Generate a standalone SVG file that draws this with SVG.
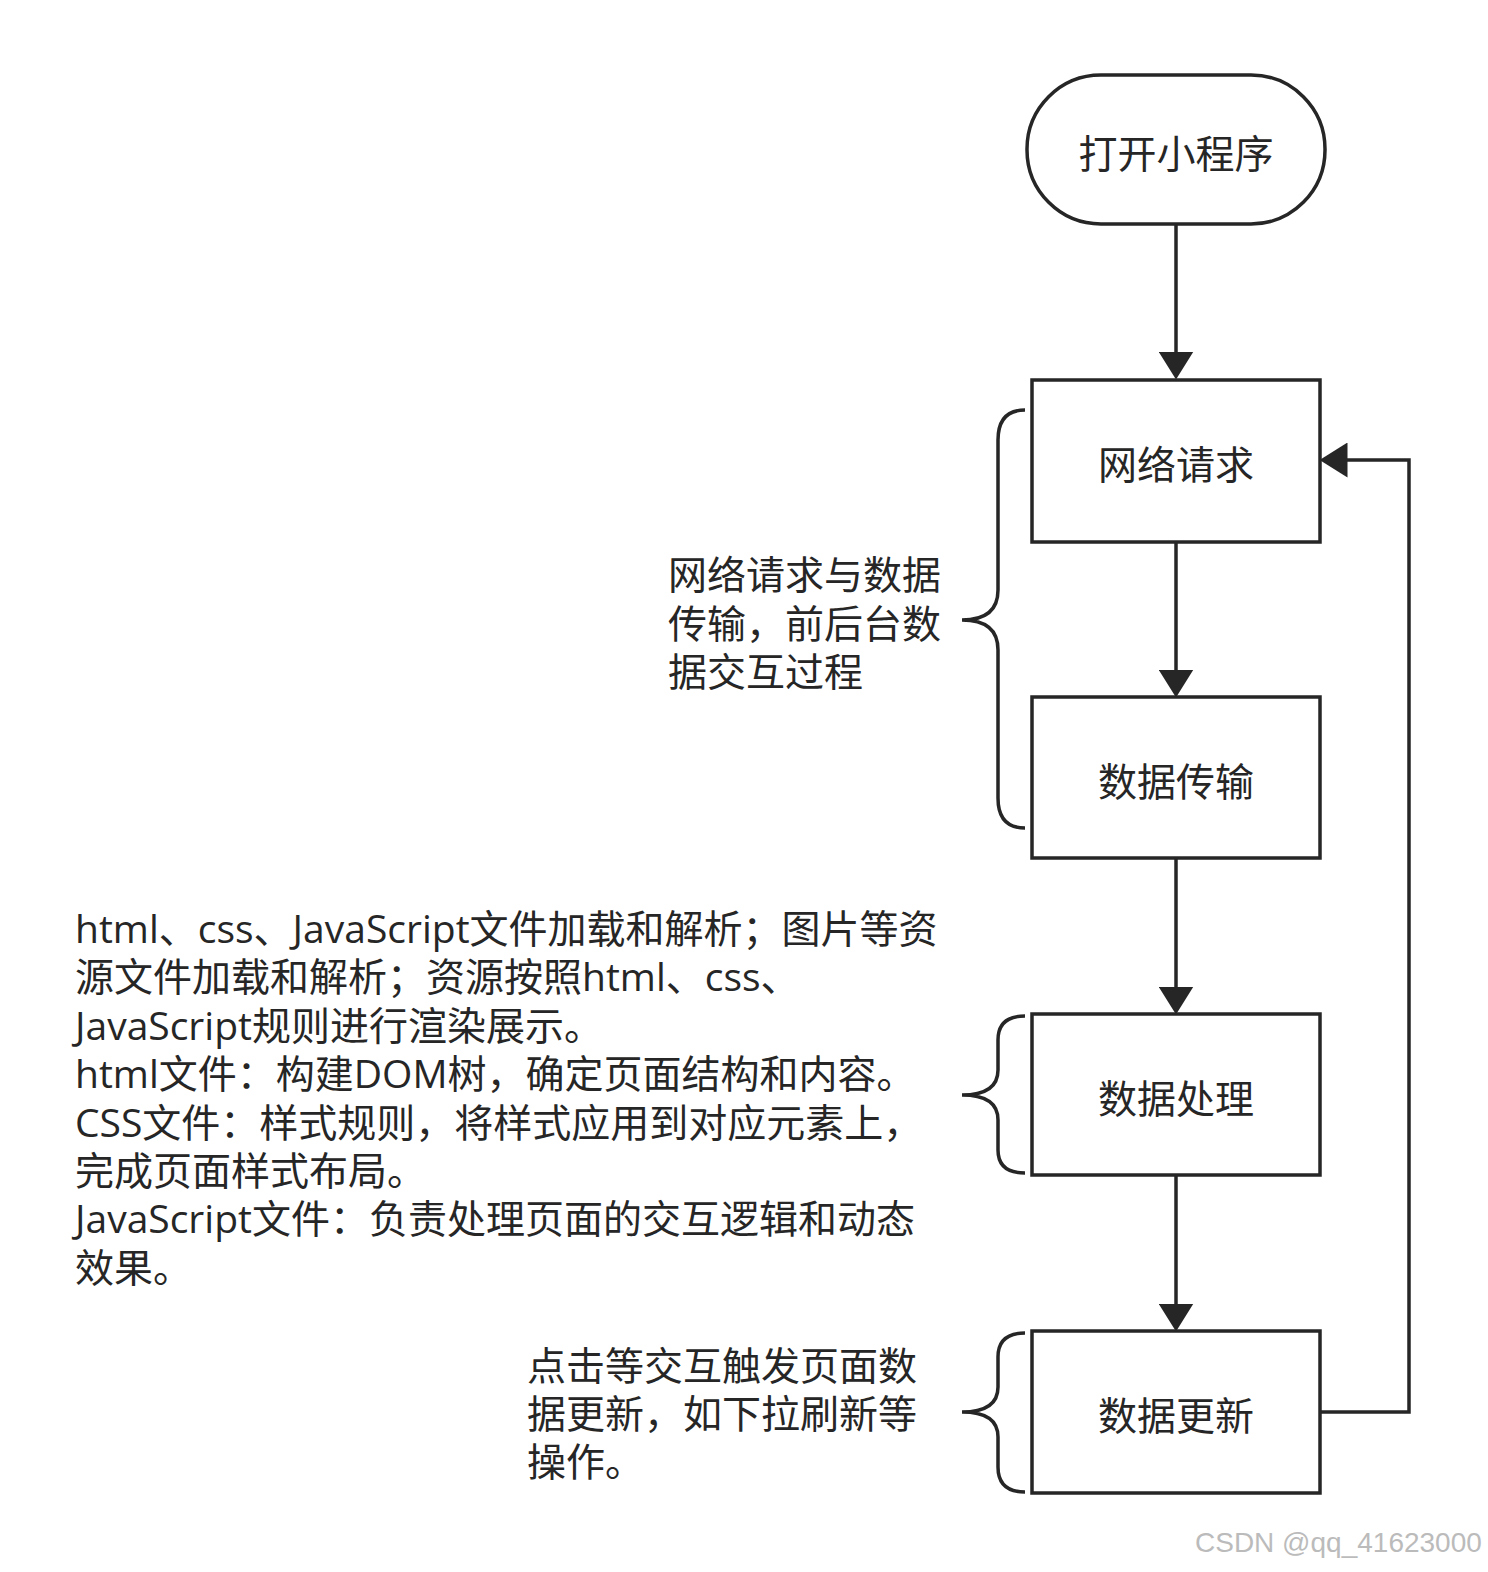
<svg xmlns="http://www.w3.org/2000/svg" width="1488" height="1572" viewBox="0 0 1488 1572">
<style>
.n{fill:#fff;stroke:#262626;stroke-width:3.5}
.c{fill:none;stroke:#262626;stroke-width:3.5}
.t{font-family:"Open Sans","Noto Sans CJK SC",sans-serif;font-size:39px;fill:#262626}
.m{text-anchor:middle;dominant-baseline:central}
</style>
<defs><marker id="a" markerWidth="8" markerHeight="10" refX="7" refY="5" orient="auto" markerUnits="strokeWidth"><path d="M0,0L8,5L0,10Z" fill="#262626"/></marker></defs>
<rect width="1488" height="1572" fill="#fff"/>
<g id="connectors">
<path class="c" d="M1176,224V376" marker-end="url(#a)"/>
<path class="c" d="M1176,542V694" marker-end="url(#a)"/>
<path class="c" d="M1176,858V1011" marker-end="url(#a)"/>
<path class="c" d="M1176,1175V1328" marker-end="url(#a)"/>
<path class="c" d="M1320,1412H1409V460H1323" marker-end="url(#a)"/>
<path class="c" d="M1025,410Q998,410 998,440V590Q998,620 962,620Q998,620 998,650V798Q998,828 1025,828"/>
<path class="c" d="M1025,1016Q998,1016 998,1040V1070Q998,1095 962,1095Q998,1095 998,1120V1150Q998,1173 1025,1173"/>
<path class="c" d="M1025,1333Q998,1333 998,1357V1387Q998,1412 962,1412Q998,1412 998,1437V1467Q998,1492 1025,1492"/>
</g>
<g id="start"><rect class="n" x="1027" y="75" width="298" height="149" rx="74"/><text class="t m" x="1176" y="152">打开小程序</text></g>
<g id="n1"><rect class="n" x="1032" y="380" width="288" height="162"/><text class="t m" x="1176" y="463">网络请求</text></g>
<g id="n2"><rect class="n" x="1032" y="697" width="288" height="161"/><text class="t m" x="1176" y="780">数据传输</text></g>
<g id="n3"><rect class="n" x="1032" y="1014" width="288" height="161"/><text class="t m" x="1176" y="1097">数据处理</text></g>
<g id="n4"><rect class="n" x="1032" y="1331" width="288" height="162"/><text class="t m" x="1176" y="1414">数据更新</text></g>
<g id="note1" class="t"><text x="668" y="589">网络请求与数据</text><text x="668" y="638">传输，前后台数</text><text x="668" y="686">据交互过程</text></g>
<g id="note2" class="t">
<text x="75" y="943">html、css、JavaScript文件加载和解析；图片等资</text>
<text x="75" y="991">源文件加载和解析；资源按照html、css、</text>
<text x="75" y="1040">JavaScript规则进行渲染展示。</text>
<text x="75" y="1088">html文件：构建DOM树，确定页面结构和内容。</text>
<text x="75" y="1137">CSS文件：样式规则，将样式应用到对应元素上，</text>
<text x="75" y="1185">完成页面样式布局。</text>
<text x="75" y="1233">JavaScript文件：负责处理页面的交互逻辑和动态</text>
<text x="75" y="1282">效果。</text>
</g>
<g id="note3" class="t"><text x="527" y="1380">点击等交互触发页面数</text><text x="527" y="1428">据更新，如下拉刷新等</text><text x="527" y="1476">操作。</text></g>
<text x="1195" y="1552" font-family="Liberation Sans,sans-serif" font-size="28" fill="#bbb">CSDN @qq_41623000</text>
</svg>
